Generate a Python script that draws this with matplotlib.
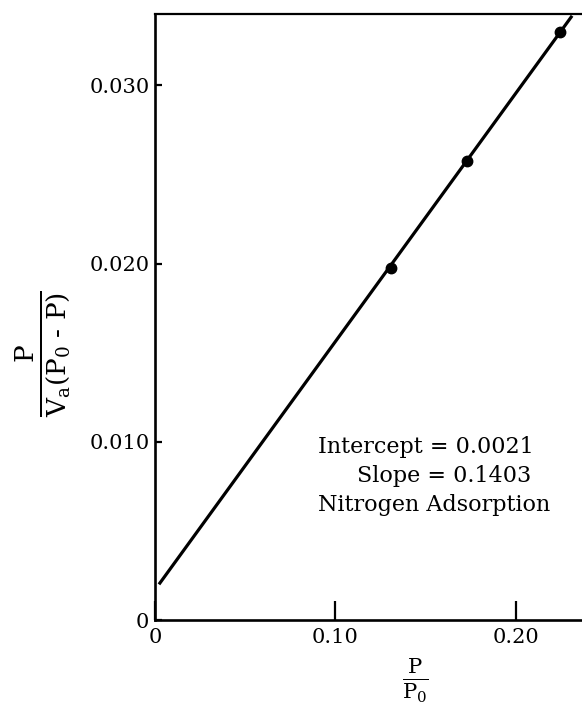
import matplotlib.pyplot as plt

# measured points (P/P0, P/(Va(P0-P)))
x_pts = [0.1309, 0.1730, 0.2246]
y_pts = [0.01977, 0.02576, 0.03298]
# fitted line, ends as drawn in the figure
fit_x = [0.0022, 0.2313]
fit_y = [0.0020, 0.0339]

x_ticks = [0, 0.10, 0.20]
x_labels = ["0", "0.10", "0.20"]
y_ticks = [0, 0.010, 0.020, 0.030]
y_labels = ["0", "0.010", "0.020", "0.030"]

plt.rcParams['font.family'] = 'DejaVu Serif'
plt.rcParams['mathtext.fontset'] = 'dejavuserif'

fig = plt.figure(figsize=(5.82, 7.11), dpi=100)
ax = fig.add_axes([155 / 582, 1 - 620 / 711, 1 - 155 / 582, (620 - 14) / 711])

ax.plot(fit_x, fit_y, color='black', lw=2.3, solid_capstyle='butt')
ax.plot(x_pts, y_pts, 'o', color='black', ms=7.5)

ax.set_xlim(0, 0.2368)
ax.set_ylim(0, 0.0340)
ax.spines['right'].set_visible(False)
for s in ['left', 'bottom']:
    ax.spines[s].set_linewidth(1.9)
ax.spines['top'].set_linewidth(1.6)

ax.set_xticks(x_ticks)
ax.set_xticklabels(x_labels)
ax.set_yticks(y_ticks)
ax.set_yticklabels(y_labels)
ax.tick_params(axis='x', direction='in', length=14, width=1.6, pad=6, labelsize=15)
ax.tick_params(axis='y', direction='in', length=5, width=1.6, pad=4, labelsize=15)

fig.text(415 / 582, 1 - 680 / 711, r'$\frac{\mathrm{P}}{\mathrm{P_0}}$',
         ha='center', va='center', fontsize=22)
fig.text(43 / 582, 1 - 354 / 711, r'$\frac{\mathrm{P}}{\mathrm{V_a(P_0}\ \mathrm{‐}\ \mathrm{P)}}$',
         ha='center', va='center', fontsize=27, rotation=90)

fig.text(318 / 582, 1 - 447 / 711, "Intercept = 0.0021", ha='left', va='center', fontsize=16)
fig.text(531 / 582, 1 - 476 / 711, "Slope = 0.1403", ha='right', va='center', fontsize=16)
fig.text(318 / 582, 1 - 505 / 711, "Nitrogen Adsorption", ha='left', va='center', fontsize=16)

fig.savefig("out.png", dpi=100)
